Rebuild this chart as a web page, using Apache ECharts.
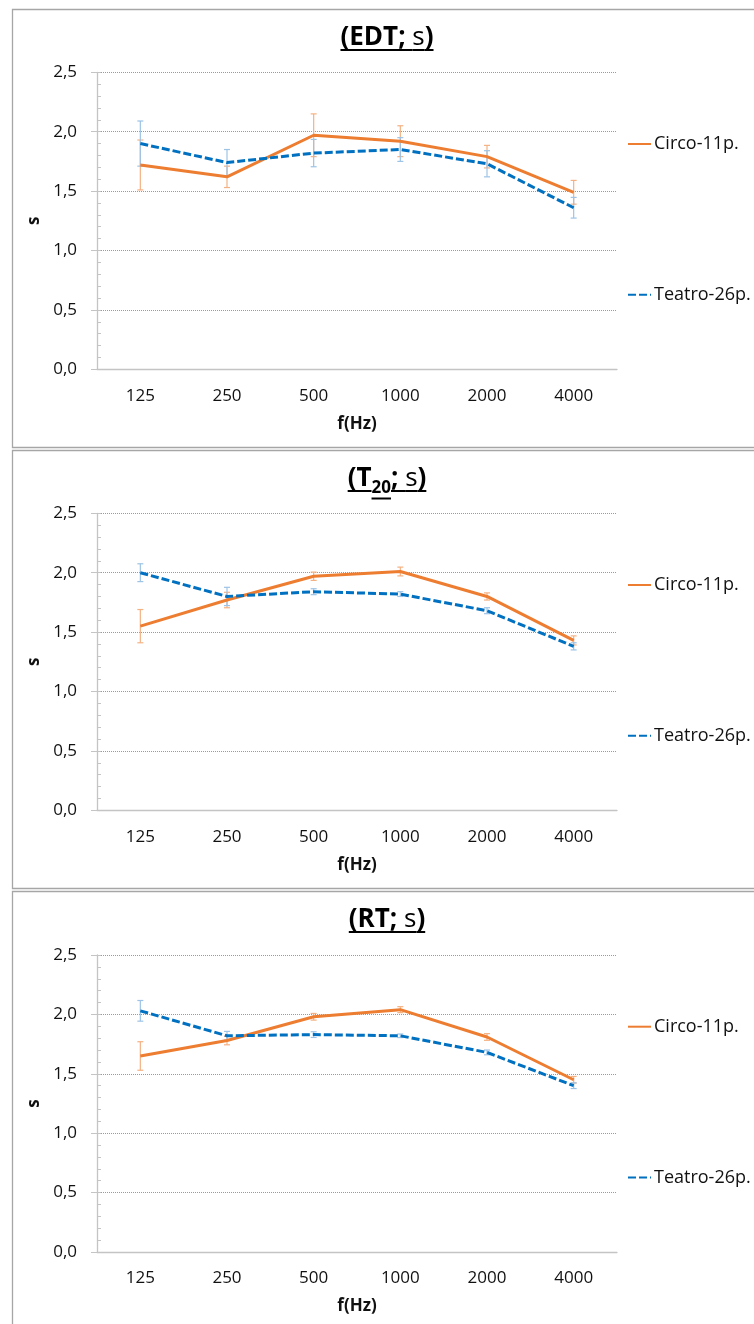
<!DOCTYPE html>
<html>
<head>
<meta charset="utf-8">
<script src="https://cdn.jsdelivr.net/npm/echarts@6/dist/echarts.min.js"></script>
<style>
  html, body { margin: 0; padding: 0; background: #ffffff; }
  #chart { width: 754px; height: 1324px; }
</style>
</head>
<body>
<div id="chart"></div>
<script>
// Octave-band centre frequencies (Hz)
const freqs = ['125', '250', '500', '1000', '2000', '4000'];
const seriesNames = ['Circo-11p.', 'Teatro-26p.'];

// EDT (s) – means and half-width of the error bars
const edtCirco      = [1.72, 1.62, 1.97, 1.92, 1.79, 1.49];
const edtCircoErr   = [0.21, 0.09, 0.18, 0.13, 0.095, 0.10];
const edtTeatro     = [1.90, 1.74, 1.82, 1.85, 1.73, 1.36];
const edtTeatroErr  = [0.19, 0.11, 0.115, 0.10, 0.11, 0.087];

// T20 (s)
const t20Circo      = [1.55, 1.77, 1.97, 2.01, 1.80, 1.43];
const t20CircoErr   = [0.14, 0.065, 0.035, 0.037, 0.03, 0.038];
const t20Teatro     = [2.00, 1.80, 1.84, 1.82, 1.68, 1.38];
const t20TeatroErr  = [0.075, 0.077, 0.025, 0.02, 0.025, 0.03];

// RT (s)
const rtCirco       = [1.65, 1.78, 1.98, 2.04, 1.81, 1.45];
const rtCircoErr    = [0.12, 0.036, 0.028, 0.025, 0.028, 0.028];
const rtTeatro      = [2.03, 1.82, 1.83, 1.82, 1.68, 1.40];
const rtTeatroErr   = [0.087, 0.037, 0.024, 0.015, 0.02, 0.024];

// Value axis range (s)
const yMin = 0, yMax = 2.5, yStep = 0.5, yMinorStep = 0.1;

const FONT = '"Open Sans", "Noto Sans", sans-serif';
const ORANGE = '#ed7d31', BLUE = '#0070c0';
const ORANGE_ERR = '#f4b183', BLUE_ERR = '#9dc3e6';
const AXIS_GREY = '#c4c4c4', GRID_GREY = '#9a9a9a', BORDER_GREY = '#a6a6a6';

// Panel layout (px)
const panelTop = [9.5, 450.5, 891.5];
const panelHeight = [438, 438, 500];
const gridTop = [72.3, 513.3, 955];
const gridLeft = 97, gridWidth = 520, gridHeight = 297;
const titleCenterX = 387;
const TITLE_SIZE = 26;

const panels = [
  { title: [{ t: '(EDT; ' }, { t: 's', normal: true }, { t: ')' }],
    circo: edtCirco, circoErr: edtCircoErr, teatro: edtTeatro, teatroErr: edtTeatroErr },
  { title: [{ t: '(T' }, { t: '20', sub: true }, { t: '; ' }, { t: 's', normal: true }, { t: ')' }],
    circo: t20Circo, circoErr: t20CircoErr, teatro: t20Teatro, teatroErr: t20TeatroErr },
  { title: [{ t: '(RT; ' }, { t: 's', normal: true }, { t: ')' }],
    circo: rtCirco, circoErr: rtCircoErr, teatro: rtTeatro, teatroErr: rtTeatroErr }
];

const measureCtx = document.createElement('canvas').getContext('2d');
function pieceFont(p) {
  const size = p.sub ? Math.round(TITLE_SIZE * 0.66) : TITLE_SIZE;
  return (p.normal ? 'normal ' : 'bold ') + size + 'px ' + FONT;
}
function textWidth(text, font) {
  measureCtx.font = font;
  return measureCtx.measureText(text).width;
}

// Underlined title built from text runs (subscript run sits lower)
function titleGraphics(pi) {
  const pieces = panels[pi].title;
  const widths = pieces.map(p => textWidth(p.t, pieceFont(p)));
  const total = widths.reduce((a, b) => a + b, 0);
  const baseline = panelTop[pi] + 38;
  let x = titleCenterX - total / 2;
  const els = [];
  pieces.forEach((p, i) => {
    const size = p.sub ? Math.round(TITLE_SIZE * 0.66) : TITLE_SIZE;
    const bl = p.sub ? baseline + 6 : baseline;
    els.push({
      type: 'text', silent: true,
      style: { text: p.t, font: pieceFont(p), fill: '#000', x: x, y: bl - 0.37 * size,
               textAlign: 'left', textVerticalAlign: 'middle' }
    });
    const uy = p.sub ? baseline + 10 : baseline + 2.5;
    els.push({
      type: 'line', silent: true,
      shape: { x1: x, y1: uy, x2: x + widths[i], y2: uy },
      style: { stroke: '#000', lineWidth: 2 }
    });
    x += widths[i];
  });
  return els;
}

function errorSeries(pi, vals, errs, color, z) {
  return {
    type: 'custom',
    xAxisIndex: 2 * pi, yAxisIndex: 2 * pi,
    silent: true, z: z,
    data: vals.map((v, i) => [i, v - errs[i], v + errs[i]]),
    encode: { x: 0, y: [1, 2] },
    renderItem: function (params, api) {
      const idx = api.value(0);
      const lo = api.coord([idx, api.value(1)]);
      const hi = api.coord([idx, api.value(2)]);
      const cap = 3;
      const st = { stroke: color, lineWidth: 1.2 };
      return {
        type: 'group',
        children: [
          { type: 'line', shape: { x1: lo[0], y1: lo[1], x2: hi[0], y2: hi[1] }, style: st },
          { type: 'line', shape: { x1: lo[0] - cap, y1: lo[1], x2: lo[0] + cap, y2: lo[1] }, style: st },
          { type: 'line', shape: { x1: hi[0] - cap, y1: hi[1], x2: hi[0] + cap, y2: hi[1] }, style: st }
        ]
      };
    }
  };
}

const grid = [], xAxis = [], yAxis = [], series = [], legend = [], graphic = [];

panels.forEach((p, pi) => {
  grid.push({ left: gridLeft, top: gridTop[pi], width: gridWidth, height: gridHeight });

  // category axis with labels and outward ticks
  xAxis.push({
    type: 'category', gridIndex: pi, data: freqs, boundaryGap: true, position: 'bottom',
    axisLine: { lineStyle: { color: AXIS_GREY, width: 1.3 } },
    axisTick: { alignWithLabel: true, length: 5, lineStyle: { color: AXIS_GREY } },
    axisLabel: { color: '#111', fontFamily: FONT, fontSize: 17, margin: 18 },
    name: 'f(Hz)', nameLocation: 'middle', nameGap: 46,
    nameTextStyle: { color: '#111', fontFamily: FONT, fontSize: 17, fontWeight: 'bold' }
  });
  // second copy: inward half of the crossing ticks
  xAxis.push({
    type: 'category', gridIndex: pi, data: freqs, boundaryGap: true, position: 'bottom',
    axisLine: { show: false },
    axisTick: { alignWithLabel: true, inside: true, length: 5, lineStyle: { color: AXIS_GREY } },
    axisLabel: { show: false }
  });

  yAxis.push({
    type: 'value', gridIndex: pi, min: yMin, max: yMax, interval: yStep, position: 'left',
    axisLine: { show: true, lineStyle: { color: AXIS_GREY, width: 1.3 } },
    axisTick: { show: true, length: 6, lineStyle: { color: AXIS_GREY } },
    axisLabel: { color: '#111', fontFamily: FONT, fontSize: 17, margin: 20,
                 formatter: v => v.toFixed(1).replace('.', ',') },
    splitLine: { show: true, lineStyle: { color: GRID_GREY, type: [1, 1], width: 1 } },
    name: 's', nameLocation: 'middle', nameGap: 48,
    nameTextStyle: { color: '#111', fontFamily: FONT, fontSize: 17, fontWeight: 'bold' }
  });
  // minor ticks on the inside of the value axis
  yAxis.push({
    type: 'value', gridIndex: pi, min: yMin, max: yMax, interval: yMinorStep, position: 'left',
    axisLine: { show: false },
    axisTick: { show: true, inside: true, length: 4, lineStyle: { color: AXIS_GREY } },
    axisLabel: { show: false },
    splitLine: { show: false }
  });

  series.push(errorSeries(pi, p.circo, p.circoErr, ORANGE_ERR, 2));
  series.push(errorSeries(pi, p.teatro, p.teatroErr, BLUE_ERR, 2));
  series.push({
    name: seriesNames[0], type: 'line', xAxisIndex: 2 * pi, yAxisIndex: 2 * pi,
    data: p.circo, symbol: 'none', z: 3, silent: true,
    lineStyle: { color: ORANGE, width: 3 }, itemStyle: { color: ORANGE }
  });
  series.push({
    name: seriesNames[1], type: 'line', xAxisIndex: 2 * pi, yAxisIndex: 2 * pi,
    data: p.teatro, symbol: 'none', z: 4, silent: true,
    lineStyle: { color: BLUE, width: 3, type: [8, 3] }, itemStyle: { color: BLUE }
  });

  const legendRows = [72.7, 223.4];
  seriesNames.forEach((nm, k) => {
    legend.push({
      data: [nm], left: 627, top: gridTop[pi] + legendRows[k] - 10,
      orient: 'vertical', padding: 0, itemWidth: 23, itemHeight: 14,
      selectedMode: false,
      itemStyle: { opacity: 0 },
      textStyle: { color: '#111', fontFamily: FONT, fontSize: 18, padding: [0, 0, 0, -2] }
    });
  });

  // panel frame
  graphic.push({
    type: 'rect', silent: true, z: -10,
    shape: { x: 12.5, y: panelTop[pi], width: 800, height: panelHeight[pi] },
    style: { fill: 'none', stroke: BORDER_GREY, lineWidth: 1.3 }
  });
  titleGraphics(pi).forEach(e => graphic.push(e));
});

const chart = echarts.init(document.getElementById('chart'));
chart.setOption({
  animation: false,
  backgroundColor: '#ffffff',
  grid: grid, xAxis: xAxis, yAxis: yAxis, series: series, legend: legend,
  graphic: { elements: graphic }
});
</script>
</body>
</html>
